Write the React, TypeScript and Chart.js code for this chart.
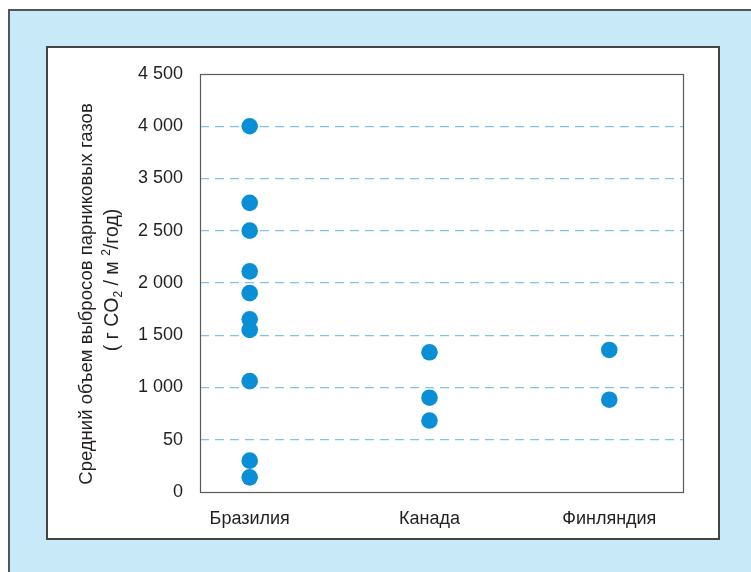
import React, { useEffect, useRef } from "react";
import { Chart, registerables } from "chart.js";

Chart.register(...registerables);

// Categories (x axis)
const categories = ["Бразилия", "Канада", "Финляндия"];
// Tick labels as printed on the original (evenly spaced, 500 units apart on the drawing)
const yTickLabels = ["0", "50", "1 000", "1 500", "2 000", "2 500", "3 500", "4 000", "4 500"];
// Values, in the drawing's even scale (one tick step = 500)
const brazil = [3500, 2767, 2501, 2111, 1903, 1653, 1551, 1061, 300, 140];
const canada = [1337, 902, 684];
const finland = [1359, 883];

const yTitleLine1 = "Средний объем выбросов парниковых газов";
// second line pieces: [text, kind]  kind: n = normal, sub = subscript, sup = superscript
const yTitleLine2: [string, string][] = [
  ["( г CO", "n"],
  ["2", "sub"],
  [" / м ", "n"],
  ["2", "sup"],
  ["/год)", "n"],
];

const FONT = "'Liberation Sans', Arial, sans-serif";
const FS = 18;

export default function App() {
  const ref = useRef<HTMLCanvasElement | null>(null);

  useEffect(() => {
    if (!ref.current) return;
    const series = [brazil, canada, finland];
    const points: { x: number; y: number }[] = [];
    series.forEach((arr, i) => arr.forEach((v) => points.push({ x: i, y: v })));

    const frame = {
      id: "plotFrame",
      beforeDatasetsDraw(chart: any) {
        const { ctx, chartArea } = chart;
        ctx.save();
        ctx.strokeStyle = "#5a5a5a";
        ctx.lineWidth = 1.2;
        ctx.strokeRect(
          Math.round(chartArea.left) + 0.5,
          Math.round(chartArea.top) + 0.5,
          Math.round(chartArea.right - chartArea.left),
          Math.round(chartArea.bottom - chartArea.top)
        );
        ctx.restore();
      },
    };

    const axisTitle = {
      id: "axisTitle",
      afterDraw(chart: any) {
        const { ctx, chartArea } = chart;
        const cy = (chartArea.top + chartArea.bottom) / 2;
        ctx.save();
        ctx.fillStyle = "#231f20";
        ctx.textBaseline = "middle";
        // line 1
        ctx.save();
        ctx.translate(87, cy + 11);
        ctx.rotate(-Math.PI / 2);
        ctx.font = `18.5px ${FONT}`;
        ctx.textAlign = "center";
        ctx.fillText(yTitleLine1, 0, 0);
        ctx.restore();
        // line 2 with sub/superscripts
        ctx.save();
        ctx.translate(113, cy - 3);
        ctx.rotate(-Math.PI / 2);
        ctx.textAlign = "left";
        const big = 19.5;
        const small = 12;
        const widths = yTitleLine2.map(([t, k]) => {
          ctx.font = `${k === "n" ? big : small}px ${FONT}`;
          return ctx.measureText(t).width;
        });
        const total = widths.reduce((a, b) => a + b, 0);
        let x = -total / 2;
        yTitleLine2.forEach(([t, k], i) => {
          ctx.font = `${k === "n" ? big : small}px ${FONT}`;
          const dy = k === "sub" ? 6 : k === "sup" ? -6 : 0;
          ctx.fillText(t, x, dy);
          x += widths[i];
        });
        ctx.restore();
        ctx.restore();
      },
    };

    const chart = new Chart(ref.current, {
      type: "scatter",
      data: {
        datasets: [
          {
            data: points,
            backgroundColor: "#0a8fd6",
            borderColor: "#0a8fd6",
            pointRadius: 8.3,
            pointHoverRadius: 8.3,
            borderWidth: 0,
          },
        ],
      },
      options: {
        animation: false,
        responsive: false,
        devicePixelRatio: 1,
        layout: { padding: { top: 74, right: 68, left: 0, bottom: 0 } },
        plugins: { legend: { display: false }, tooltip: { enabled: false } },
        scales: {
          x: {
            type: "linear",
            min: -0.2764,
            max: 2.41,
            afterBuildTicks: (scale: any) => {
              scale.ticks = categories.map((_, i) => ({ value: i }));
            },
            afterFit: (scale: any) => {
              scale.height = 80;
            },
            grid: { display: false, drawTicks: false },
            border: { display: false },
            ticks: {
              padding: 16,
              color: "#231f20",
              font: { family: FONT, size: FS },
              callback: (v: any) => categories[Math.round(Number(v))] ?? "",
            },
          },
          y: {
            type: "linear",
            min: 0,
            max: 4000,
            afterBuildTicks: (scale: any) => {
              scale.ticks = yTickLabels.map((_, i) => ({ value: i * 500 }));
            },
            afterFit: (scale: any) => {
              scale.width = 200;
            },
            grid: {
              drawTicks: false,
              lineWidth: 1.2,
              color: (ctx: any) =>
                ctx.index === 0 || ctx.index === yTickLabels.length - 1 ? "rgba(0,0,0,0)" : "#7ec3ea",
            },
            border: { display: false, dash: [9, 6] },
            ticks: {
              padding: 17,
              color: "#231f20",
              font: { family: FONT, size: FS },
              callback: (_v: any, i: number) => yTickLabels[i] ?? "",
            },
            title: { display: false },
          },
        },
      },
      plugins: [frame, axisTitle],
    } as any);

    return () => chart.destroy();
  }, []);

  return (
    <div
      style={{
        position: "absolute",
        left: 0,
        top: 0,
        width: 751,
        height: 572,
        background: "#ffffff",
        overflow: "hidden",
      }}
    >
      <div
        style={{
          position: "absolute",
          left: 8,
          top: 9,
          width: 760,
          height: 580,
          background: "#c7e9f8",
          borderTop: "2px solid #555",
          borderLeft: "2px solid #555",
          boxSizing: "border-box",
        }}
      />
      <div
        style={{
          position: "absolute",
          left: 46,
          top: 46,
          width: 674,
          height: 494,
          background: "#ffffff",
          border: "2px solid #444",
          boxSizing: "border-box",
        }}
      />
      <canvas
        ref={ref}
        width={751}
        height={572}
        style={{ position: "absolute", left: 0, top: 0, width: 751, height: 572 }}
      />
    </div>
  );
}
